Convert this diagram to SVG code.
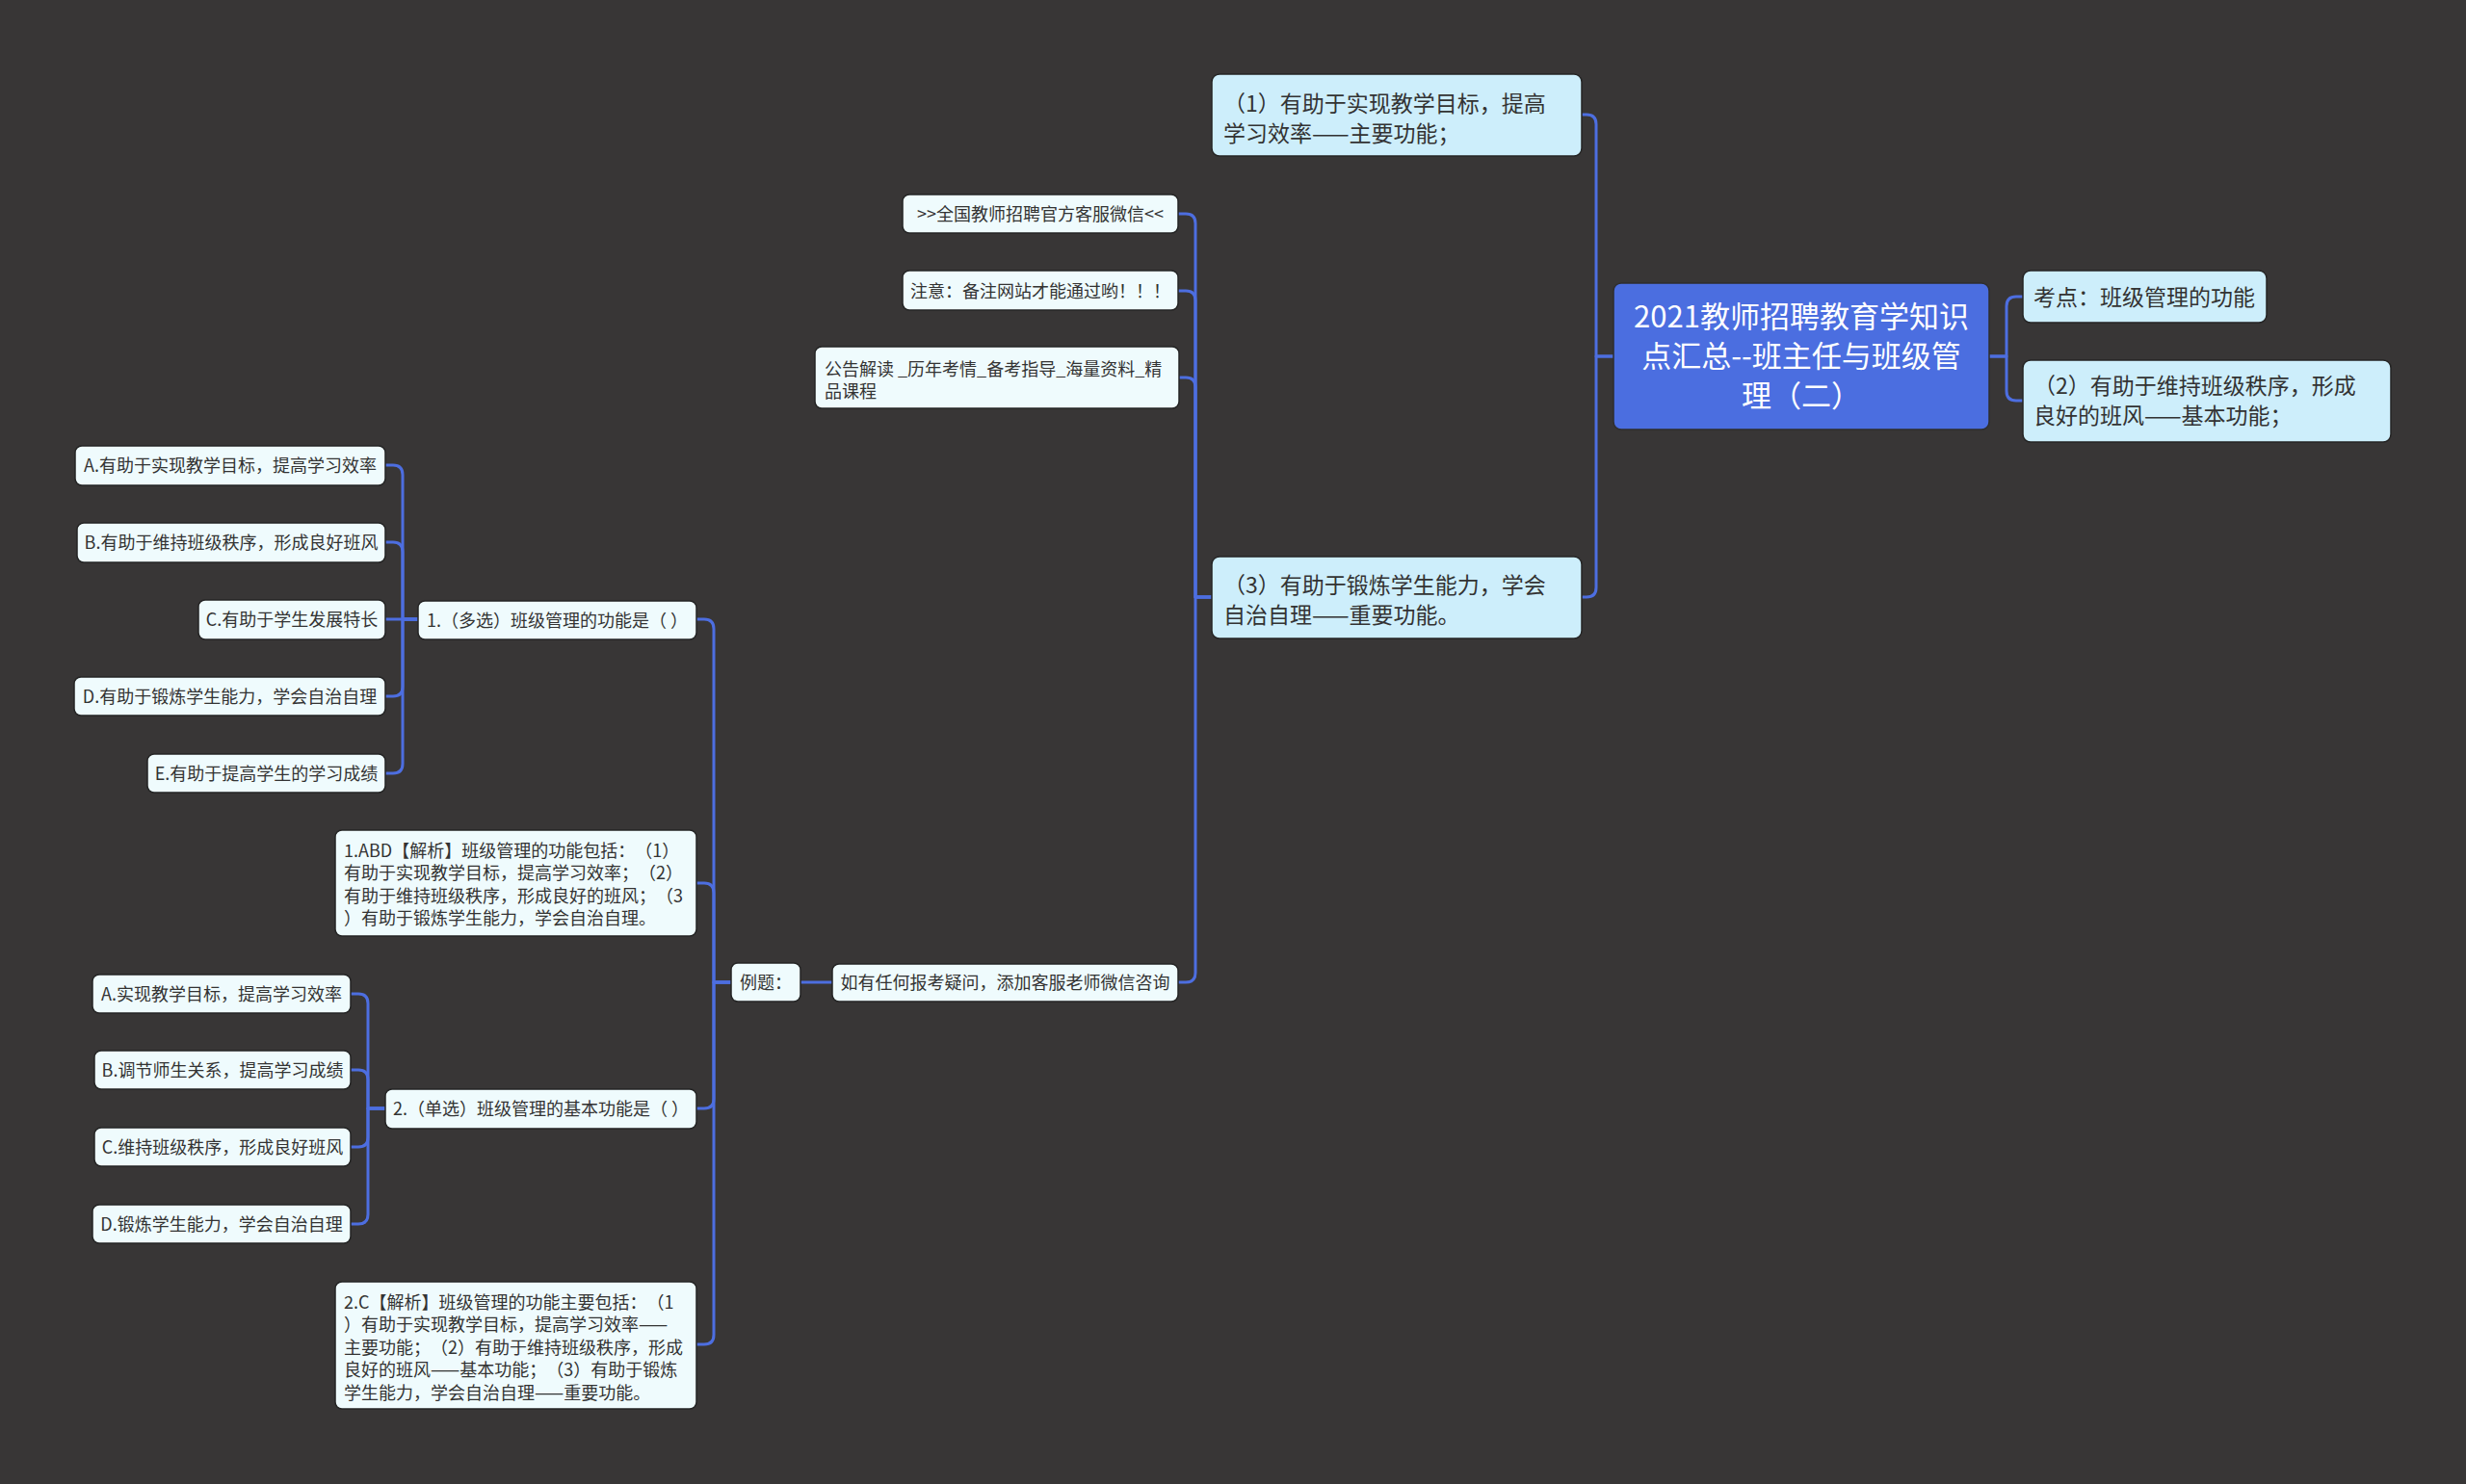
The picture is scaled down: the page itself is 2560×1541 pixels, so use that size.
<svg xmlns="http://www.w3.org/2000/svg" width="2560" height="1541" viewBox="0 0 2560 1541">
<style>
text{font-family:"Noto Sans CJK SC","Noto Sans",sans-serif;fill:#333333;text-spacing-trim:space-all}
.s{font-size:18px}
.m{font-size:23px}
.r{font-size:31px;fill:#ffffff}
.c{text-anchor:middle}
.bs{fill:#effbfd;stroke:#242424;stroke-width:1.5}
.bm{fill:#cdeefb;stroke:#242424;stroke-width:1.5}
.br{fill:#4b6ee0;stroke:#2e2e2e;stroke-width:1.5}
.ln{fill:none;stroke:#4d6ee0;stroke-width:3;stroke-linecap:round;stroke-linejoin:round}
</style>
<rect width="2560" height="1541" fill="#383636"/>
<g id="connectors" class="ln">
<path d="M1675,370 H1657 V129 Q1657,119 1647,119 H1641"/>
<path d="M1675,370 H1657 V610 Q1657,620 1647,620 H1641"/>
<path d="M2065,370 H2083 V318 Q2083,308 2093,308 H2100"/>
<path d="M2065,370 H2083 V406 Q2083,416 2093,416 H2100"/>
<path d="M1258,620 H1241 V232 Q1241,222 1231,222 H1223"/>
<path d="M1258,620 H1241 V312 Q1241,302 1231,302 H1223"/>
<path d="M1258,620 H1241 V402 Q1241,392 1231,392 H1224"/>
<path d="M1258,620 H1241 V1010 Q1241,1020 1231,1020 H1223"/>
<path d="M864,1020 H831"/>
<path d="M759,1020 H741 V653 Q741,643 731,643 H723"/>
<path d="M759,1020 H741 V927 Q741,917 731,917 H723"/>
<path d="M759,1020 H741 V1141 Q741,1151 731,1151 H723"/>
<path d="M759,1020 H741 V1386 Q741,1396 731,1396 H723"/>
<path d="M434,643 H418 V493 Q418,483 408,483 H400"/>
<path d="M434,643 H418 V573 Q418,563 408,563 H400"/>
<path d="M434,643 H400"/>
<path d="M434,643 H418 V713 Q418,723 408,723 H400"/>
<path d="M434,643 H418 V793 Q418,803 408,803 H400"/>
<path d="M400,1151 H382 V1042 Q382,1032 372,1032 H364"/>
<path d="M400,1151 H382 V1121 Q382,1111 372,1111 H364"/>
<path d="M400,1151 H382 V1181 Q382,1191 372,1191 H364"/>
<path d="M400,1151 H382 V1261 Q382,1271 372,1271 H364"/>
</g>
<g id="root">
<rect class="br" x="1675" y="294" width="390" height="152" rx="8"/>
<text class="r c" x="1870" y="339.5">2021教师招聘教育学知识</text>
<text class="r c" x="1870" y="380.5">点汇总--班主任与班级管</text>
<text class="r c" x="1870" y="421.5">理（二）</text>
</g>
<g id="n-kaodian">
<rect class="bm" x="2100" y="281" width="253" height="54" rx="8"/>
<text class="m" x="2111" y="316.5">考点：班级管理的功能</text>
</g>
<g id="n-f2">
<rect class="bm" x="2100" y="374" width="382" height="85" rx="8"/>
<text class="m" x="2111" y="408.5">（2）有助于维持班级秩序，形成</text>
<text class="m" x="2111" y="439.5">良好的班风——基本功能；</text>
</g>
<g id="n-f1">
<rect class="bm" x="1258" y="77" width="384" height="85" rx="8"/>
<text class="m" x="1270" y="115.5">（1）有助于实现教学目标，提高</text>
<text class="m" x="1270" y="146.5">学习效率——主要功能；</text>
</g>
<g id="n-f3">
<rect class="bm" x="1258" y="578" width="384" height="85" rx="8"/>
<text class="m" x="1270" y="615.5">（3）有助于锻炼学生能力，学会</text>
<text class="m" x="1270" y="646.5">自治自理——重要功能。</text>
</g>
<g id="n-wechat">
<rect class="bs" x="937" y="202" width="286" height="40" rx="7"/>
<text class="s c" x="1080" y="228.5">&gt;&gt;全国教师招聘官方客服微信&lt;&lt;</text>
</g>
<g id="n-note">
<rect class="bs" x="937" y="281" width="286" height="41" rx="7"/>
<text class="s c" x="1080" y="308.5">注意：备注网站才能通过哟！！！</text>
</g>
<g id="n-notice">
<rect class="bs" x="846" y="360" width="378" height="64" rx="7"/>
<text class="s" x="856" y="389.5">公告解读 _历年考情_备考指导_海量资料_精</text>
<text class="s" x="856" y="412.5">品课程</text>
</g>
<g id="n-ask">
<rect class="bs" x="864" y="1001" width="359" height="39" rx="7"/>
<text class="s c" x="1043.5" y="1026.5">如有任何报考疑问，添加客服老师微信咨询</text>
</g>
<g id="n-example">
<rect class="bs" x="759" y="1000" width="72" height="40" rx="7"/>
<text class="s c" x="795" y="1026.5">例题：</text>
</g>
<g id="n-q1">
<rect class="bs" x="434" y="624" width="289" height="40" rx="7"/>
<text class="s c" x="578.5" y="650.5">1.（多选）班级管理的功能是（ ）</text>
</g>
<g id="n-a1">
<rect class="bs" x="348" y="862" width="375" height="110" rx="7"/>
<text class="s" x="357" y="889.5">1.ABD【解析】班级管理的功能包括：（1）</text>
<text class="s" x="357" y="913">有助于实现教学目标，提高学习效率；（2）</text>
<text class="s" x="357" y="936.5">有助于维持班级秩序，形成良好的班风；（3</text>
<text class="s" x="357" y="960">）有助于锻炼学生能力，学会自治自理。</text>
</g>
<g id="n-q2">
<rect class="bs" x="400" y="1131" width="323" height="41" rx="7"/>
<text class="s c" x="561.5" y="1157.5">2.（单选）班级管理的基本功能是（ ）</text>
</g>
<g id="n-a2">
<rect class="bs" x="348" y="1331" width="375" height="132" rx="7"/>
<text class="s" x="357" y="1358.5">2.C【解析】班级管理的功能主要包括：（1</text>
<text class="s" x="357" y="1382">）有助于实现教学目标，提高学习效率——</text>
<text class="s" x="357" y="1405.5">主要功能；（2）有助于维持班级秩序，形成</text>
<text class="s" x="357" y="1429">良好的班风——基本功能；（3）有助于锻炼</text>
<text class="s" x="357" y="1452.5">学生能力，学会自治自理——重要功能。</text>
</g>
<g id="n-q1a">
<rect class="bs" x="78" y="463" width="322" height="41" rx="7"/>
<text class="s c" x="239" y="490">A.有助于实现教学目标，提高学习效率</text>
</g>
<g id="n-q1b">
<rect class="bs" x="80" y="543" width="320" height="41" rx="7"/>
<text class="s c" x="240" y="570">B.有助于维持班级秩序，形成良好班风</text>
</g>
<g id="n-q1c">
<rect class="bs" x="206" y="623" width="194" height="41" rx="7"/>
<text class="s c" x="303" y="650">C.有助于学生发展特长</text>
</g>
<g id="n-q1d">
<rect class="bs" x="77" y="703" width="323" height="40" rx="7"/>
<text class="s c" x="238.5" y="729.5">D.有助于锻炼学生能力，学会自治自理</text>
</g>
<g id="n-q1e">
<rect class="bs" x="153" y="783" width="247" height="40" rx="7"/>
<text class="s c" x="276.5" y="809.5">E.有助于提高学生的学习成绩</text>
</g>
<g id="n-q2a">
<rect class="bs" x="96" y="1012" width="268" height="40" rx="7"/>
<text class="s c" x="230" y="1038.5">A.实现教学目标，提高学习效率</text>
</g>
<g id="n-q2b">
<rect class="bs" x="98" y="1091" width="266" height="40" rx="7"/>
<text class="s c" x="231" y="1117.5">B.调节师生关系，提高学习成绩</text>
</g>
<g id="n-q2c">
<rect class="bs" x="98" y="1171" width="266" height="40" rx="7"/>
<text class="s c" x="231" y="1197.5">C.维持班级秩序，形成良好班风</text>
</g>
<g id="n-q2d">
<rect class="bs" x="96" y="1251" width="268" height="40" rx="7"/>
<text class="s c" x="230" y="1277.5">D.锻炼学生能力，学会自治自理</text>
</g>
</svg>
